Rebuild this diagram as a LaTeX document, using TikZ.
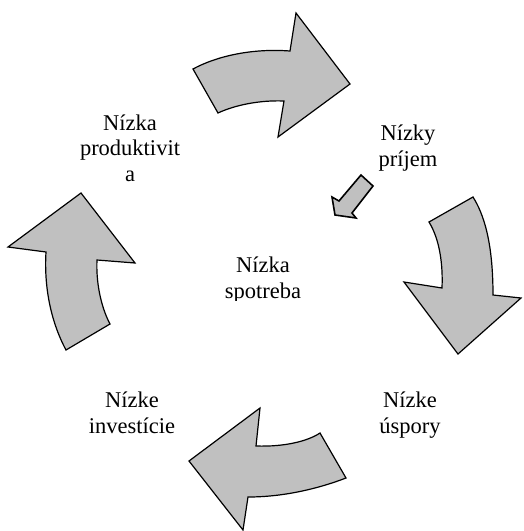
\documentclass[tikz,border=0pt]{standalone}
\usepackage{fontspec}
\setmainfont{Liberation Serif}
\definecolor{arrowgray}{RGB}{192,192,192}

\begin{document}
\begin{tikzpicture}[x=1pt, y=-1pt, thick,
    curvearrow/.style = {draw, fill=arrowgray, line width=1.2pt, line join=miter},
    cause/.style = {align=center, inner sep=0pt, anchor=base, font={\fontsize{22.5}{25.5}\selectfont}}]
        \useasboundingbox (0,0) rectangle (523,531);
        \node[cause] (prod) at (130,181) {Nízka\\produktivit\\a};
        \node[cause] (prijem) at (408,166) {Nízky\\príjem};
        \node[cause] (invest) at (132,433) {Nízke\\investície};
        \node[cause] (uspory) at (410,433) {Nízke\\úspory};
        \begin{scope}
            \clip (200,240) rectangle (330,300);
            \node[cause] (spotreba) at (263,298) {Nízka\\spotreba};
        \end{scope}
        % top
        \draw[curvearrow] (193,69) .. controls (215,57) and (250,48) .. (290,51) -- (296,13) -- (350,84) -- (278,137) -- (284,101)
            .. controls (260,100) and (235,105) .. (218,113) -- cycle;
        % right
        \draw[curvearrow] (429,222) -- (473,197) .. controls (483,213) and (493,240) .. (493,295) -- (521,298) -- (458,354) -- (404,282) -- (442,288)
            .. controls (443,265) and (440,240) .. cycle;
        % bottom
        \draw[curvearrow] (320,433) -- (346,478) .. controls (320,488) and (285,497) .. (248,497) -- (243,530) -- (189,461) -- (260,408) -- (256,446)
            .. controls (285,447) and (308,441) .. cycle;
        % left
        \draw[curvearrow] (66,350) -- (110,324) .. controls (100,305) and (96,280) .. (97,260) -- (135,263) -- (81,193) -- (8,247) -- (46,252)
            .. controls (44,285) and (50,320) .. cycle;
        % small one
        \draw[curvearrow, line width=1.6pt] (361,175) -- (373,186) -- (352,213) -- (356,218) -- (335,215) -- (332,197) -- (339,201) -- cycle;
    \end{tikzpicture}
\end{document}
